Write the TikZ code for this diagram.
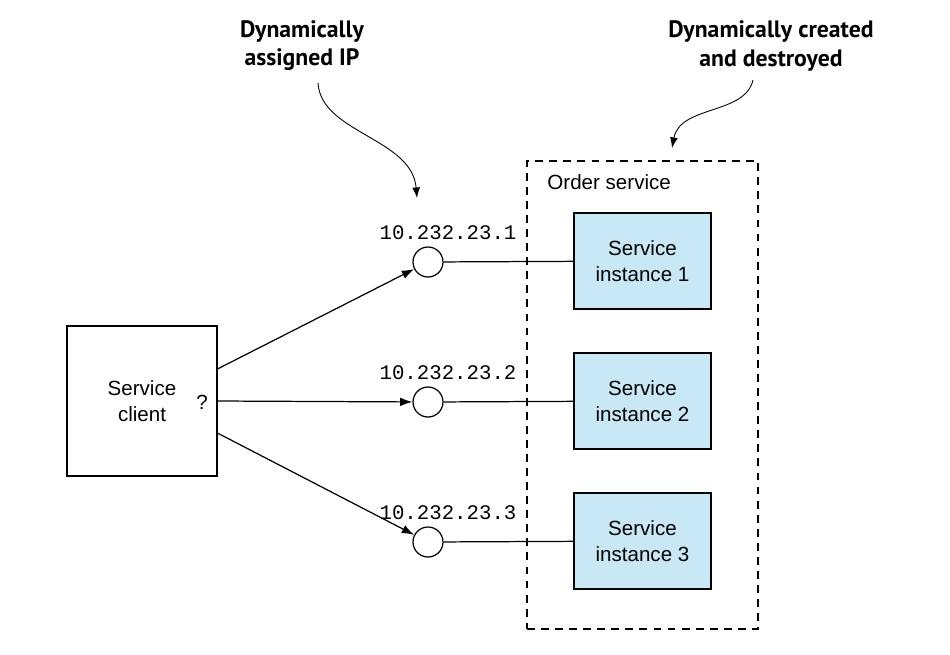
\documentclass[tikz,border=0pt]{standalone}
\usepackage{fontspec}
\setmainfont{Liberation Sans}
\newfontfamily\ipfont{Liberation Mono}
\newfontfamily\notefont{PT Sans}
\usepackage{xcolor}
\usetikzlibrary{arrows.meta, calc, positioning}
\definecolor{instblue}{HTML}{C8E8F6}

\begin{document}
\begin{tikzpicture}[x=0.02cm, y=-0.02cm, line width=0.7pt,
                        >={Latex[length=7pt, width=5pt]},
                        font=\fontsize{11.7}{14.8}\selectfont,
                        client/.style={draw, rectangle, minimum width=3cm, minimum height=3cm, align=center},
                        inst/.style={draw, rectangle, fill=instblue, minimum width=2.74cm, minimum height=1.92cm, align=center},
                        group/.style={draw, rectangle, dash pattern=on 4.5pt off 3.5pt, minimum width=4.62cm, minimum height=9.36cm},
                        ipnode/.style={draw, circle, fill=white, minimum size=0.6cm, inner sep=0pt},
                        iplabel/.style={font=\ipfont\fontsize{11.8}{14}\selectfont},
                        note/.style={font=\notefont\bfseries\fontsize{13.5}{16}\selectfont, align=center},
                        notearrow/.style={line width=0.5pt, -{Latex[length=6pt, width=4.5pt]}}]
                        \useasboundingbox (0,0) rectangle (950,654);
                        \node[note] (assigned) at (302,46) {Dynamically\\assigned IP};
                        \node[note] (created) at (771,46) {Dynamically created\\and destroyed};
                        \node[group] (order) at (642.5,395) {};
                        \node[anchor=west] (ordername) at (541,182) {Order service};
                        \node[client] (client) at (142,401) {Service\\client};
                        \node[] (ask) at (202,402) {?};
                        \node[ipnode] (ip1) at (428,262) {};
                        \node[ipnode] (ip2) at (428,402) {};
                        \node[ipnode] (ip3) at (428,542) {};
                        \node[iplabel] (ipl1) at (448,233) {10.232.23.1};
                        \node[iplabel] (ipl2) at (448,373) {10.232.23.2};
                        \node[iplabel] (ipl3) at (448,513) {10.232.23.3};
                        \node[inst] (inst1) at (642.5,261) {Service\\instance 1};
                        \node[inst] (inst2) at (642.5,401) {Service\\instance 2};
                        \node[inst] (inst3) at (642.5,541) {Service\\instance 3};
                        \coordinate (from1) at (318,83);
                        \coordinate (tip1) at (417,198);
                        \coordinate (from2) at (753,80);
                        \coordinate (tip2) at (672,148);
                        \draw
                        (client.23) edge[->] (ip1)
                        (client.east) edge[->] (ip2)
                        (client.-23) edge[->] (ip3)
                        (ip1) edge (inst1)
                        (ip2) edge (inst2)
                        (ip3) edge (inst3);
                        \draw[notearrow] (from1) .. controls (321,133) and (412,138) .. (tip1);
                        \draw[notearrow] (from2) .. controls (745,115) and (680,105) .. (tip2);
                    \end{tikzpicture}
\end{document}
